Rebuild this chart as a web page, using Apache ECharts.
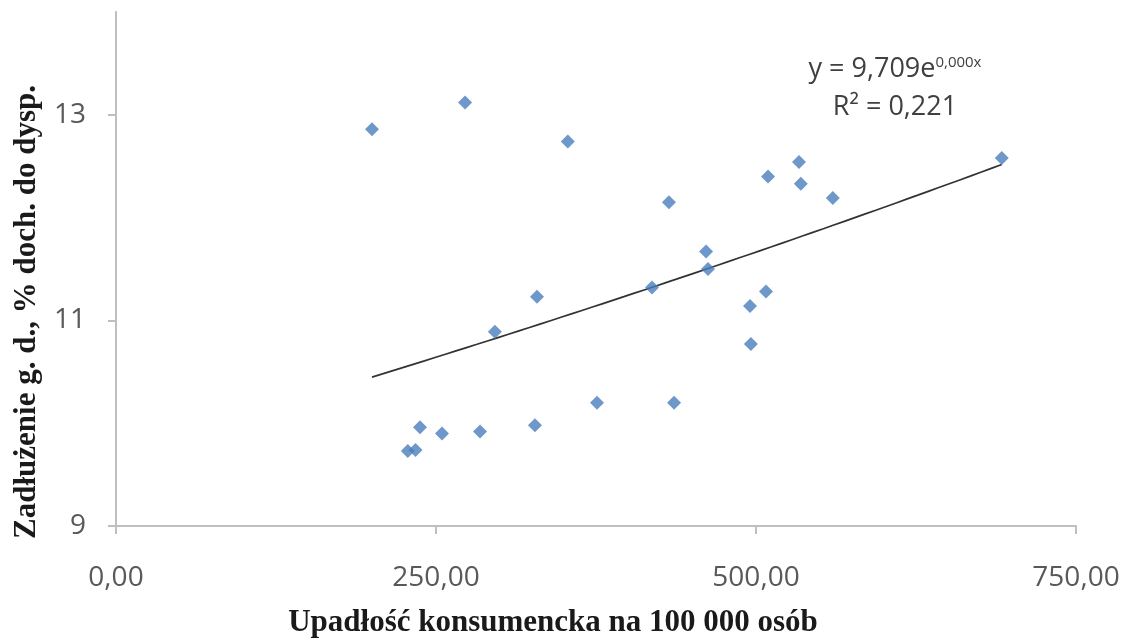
<!DOCTYPE html>
<html>
<head>
<meta charset="utf-8">
<script src="https://cdn.jsdelivr.net/npm/echarts@6/dist/echarts.min.js"></script>
<style>
  html, body { margin: 0; padding: 0; background: #fff; }
  #chart { width: 1128px; height: 642px; }
</style>
</head>
<body>
<div id="chart"></div>
<script>
// Upadłości konsumenckie na 100 000 osób (x) vs zadłużenie gospodarstw domowych, % dochodu do dyspozycji (y)
const bankruptcies = [200, 272.7, 353, 533.6, 692, 509.4, 535, 560, 432, 461, 462.5, 418.75, 507.8, 328.9, 495.3, 296, 496, 375.8, 436, 237.5, 254.7, 284.4, 327.3, 228, 234];
const debtRatio    = [12.86, 13.12, 12.74, 12.54, 12.58, 12.40, 12.33, 12.19, 12.15, 11.67, 11.50, 11.32, 11.28, 11.23, 11.14, 10.89, 10.77, 10.20, 10.20, 9.96, 9.90, 9.92, 9.98, 9.73, 9.74];

// Wykładnicza linia trendu y = a·e^(b·x)
const trendA = 9.709;
const trendB = 0.000367;
const trendR2 = 0.221;

const xTicks = [0, 250, 500, 750];
const yTicks = [9, 11, 13];

const points = bankruptcies.map((x, i) => [x, debtRatio[i]]);
const xMin = Math.min(...bankruptcies), xMax = Math.max(...bankruptcies);
const trend = [];
const steps = 60;
for (let i = 0; i <= steps; i++) {
  const x = xMin + (xMax - xMin) * i / steps;
  trend.push([x, trendA * Math.exp(trendB * x)]);
}

const fmt = (v, d) => v.toFixed(d).replace('.', ',');

const chart = echarts.init(document.getElementById('chart'), null, { renderer: 'canvas' });
chart.setOption({
  animation: false,
  backgroundColor: '#ffffff',
  grid: { left: 116, right: 52, top: 12, bottom: 116 },
  xAxis: {
    type: 'value',
    min: 0, max: 750, interval: 250,
    splitLine: { show: false },
    axisLine: { lineStyle: { color: '#bfbfbf', width: 2 } },
    axisTick: { show: true, length: 8, customValues: xTicks, lineStyle: { color: '#bfbfbf', width: 2 } },
    axisLabel: {
      margin: 38,
      color: '#595959',
      fontFamily: 'Open Sans',
      fontSize: 28,
      customValues: xTicks,
      formatter: v => fmt(v, 2)
    }
  },
  yAxis: {
    type: 'value',
    min: 9, max: 14, interval: 2,
    splitLine: { show: false },
    axisLine: { show: true, onZero: false, lineStyle: { color: '#bfbfbf', width: 2 } },
    axisTick: { show: true, length: 8, customValues: yTicks, lineStyle: { color: '#bfbfbf', width: 2 } },
    axisLabel: {
      margin: 30,
      color: '#595959',
      fontFamily: 'Open Sans',
      fontSize: 28,
      customValues: yTicks,
      formatter: v => String(v)
    }
  },
  series: [
    {
      type: 'scatter',
      data: points,
      symbol: 'diamond',
      symbolSize: [14, 14],
      itemStyle: { color: '#4a7ebb' },
      z: 3
    },
    {
      type: 'line',
      data: trend,
      showSymbol: false,
      smooth: false,
      lineStyle: { color: '#333333', width: 1.7 },
      z: 2
    }
  ],
  graphic: [
    {
      type: 'text',
      x: 895, y: 69,
      style: {
        text: '{b|y = ' + fmt(trendA, 3) + 'e}{s|' + fmt(trendB, 3) + 'x}',
        align: 'center', verticalAlign: 'middle',
        rich: {
          b: { fontFamily: 'Open Sans', fontSize: 27, fill: '#404040', color: '#404040' },
          s: { fontFamily: 'Open Sans', fontSize: 15, fill: '#404040', color: '#404040', verticalAlign: 'top', padding: [0, 0, 12, 0] }
        }
      }
    },
    {
      type: 'text',
      x: 895, y: 107,
      style: {
        text: 'R² = ' + fmt(trendR2, 3),
        align: 'center', verticalAlign: 'middle',
        fontFamily: 'Open Sans', fontSize: 27, fill: '#404040'
      }
    },
    {
      type: 'text',
      x: 27, y: 312,
      rotation: Math.PI / 2,
      style: {
        text: 'Zadłużenie g. d., % doch. do dysp.',
        fontFamily: 'Liberation Serif', fontWeight: 'bold', fontSize: 31,
        fill: '#1a1a1a', align: 'center', verticalAlign: 'middle'
      }
    },
    {
      type: 'text',
      x: 553, y: 623,
      style: {
        text: 'Upadłość konsumencka na 100 000 osób',
        fontFamily: 'Liberation Serif', fontWeight: 'bold', fontSize: 31,
        fill: '#1a1a1a', align: 'center', verticalAlign: 'middle'
      }
    }
  ]
});
</script>
</body>
</html>
